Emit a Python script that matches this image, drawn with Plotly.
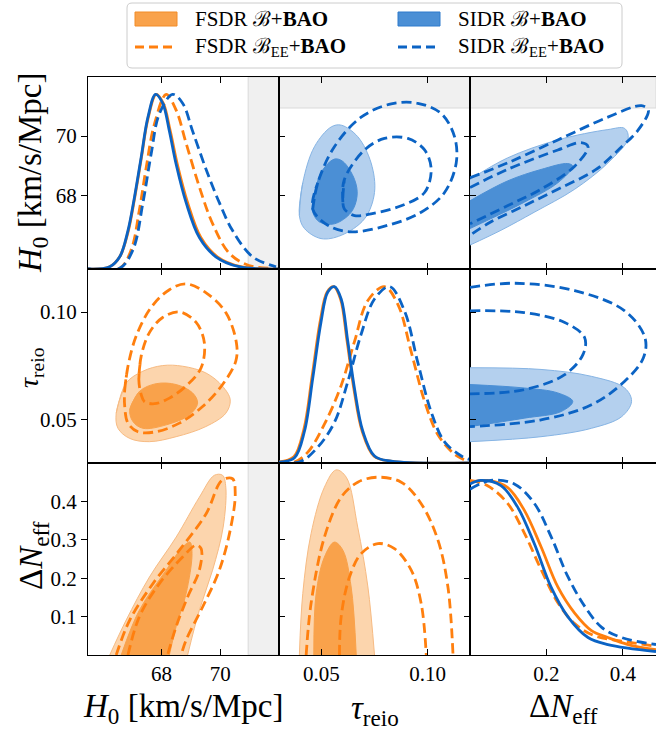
import plotly.graph_objects as go

FIG_W, FIG_H = 656, 735

# ---------------- axes ----------------
H0_RANGE = [65.5, 72.0]
TAU_RANGE = [0.03, 0.12]
DN_RANGE = [0.0, 0.487]
PDF_RANGE = [0.0, 1.1]
H0_BAND = [70.95, 72.0]          # shaded H0 region

H0_TICKS = [68, 70]
TAU_TICKS = [0.05, 0.10]
TAU_TICKTEXT = ["0.05", "0.10"]
DN_XTICKS = [0.2, 0.4]
DN_YTICKS = [0.1, 0.2, 0.3, 0.4]

# ---------------- 1D posteriors (normalised to peak = 1) ----------------
H0_FSDR_B = [(65.5, 0.0), (66.24, 0.013), (66.58, 0.07), (66.86, 0.21), (67.08, 0.40),
             (67.31, 0.63), (67.54, 0.86), (67.82, 1.0), (68.06, 0.95), (68.30, 0.79),
             (68.54, 0.60), (68.89, 0.38), (69.34, 0.18), (69.90, 0.07), (70.70, 0.013), (72.0, 0.0)]
H0_SIDR_B = [(65.5, 0.0), (66.24, 0.013), (66.58, 0.07), (66.86, 0.22), (67.08, 0.41),
             (67.31, 0.64), (67.54, 0.87), (67.80, 1.0), (68.04, 0.95), (68.27, 0.79),
             (68.50, 0.60), (68.84, 0.38), (69.29, 0.18), (69.85, 0.07), (70.64, 0.013), (72.0, 0.0)]
H0_FSDR_BEE = [(65.5, 0.0), (66.58, 0.005), (66.97, 0.11), (67.25, 0.34), (67.48, 0.58),
               (67.76, 0.83), (68.16, 1.0), (68.50, 0.91), (68.84, 0.72), (69.29, 0.47),
               (69.74, 0.26), (70.31, 0.09), (70.98, 0.02), (71.9, 0.003)]
H0_SIDR_BEE = [(65.5, 0.0), (66.58, 0.005), (67.03, 0.11), (67.37, 0.38), (67.65, 0.66),
               (67.93, 0.89), (68.38, 1.0), (68.72, 0.95), (69.06, 0.79), (69.52, 0.57),
               (69.97, 0.38), (70.42, 0.22), (71.10, 0.07), (71.9, 0.013)]

TAU_FSDR_B = [(0.030, 0.006), (0.0370, 0.035), (0.0417, 0.19), (0.0456, 0.49), (0.0495, 0.81),
              (0.0527, 0.97), (0.0558, 1.0), (0.0590, 0.93), (0.0621, 0.69), (0.0653, 0.42),
              (0.0692, 0.18), (0.0747, 0.04), (0.0826, 0.01), (0.12, 0.0)]
TAU_SIDR_B = [(0.030, 0.005), (0.0373, 0.03), (0.0420, 0.18), (0.0459, 0.48), (0.0498, 0.80),
              (0.0530, 0.97), (0.0561, 1.0), (0.0593, 0.93), (0.0624, 0.69), (0.0656, 0.42),
              (0.0695, 0.18), (0.0750, 0.04), (0.0829, 0.01), (0.12, 0.0)]
TAU_FSDR_BEE = [(0.030, 0.0), (0.0373, 0.005), (0.0435, 0.06), (0.0514, 0.22), (0.0593, 0.44),
                (0.0656, 0.69), (0.0718, 0.92), (0.0797, 1.0), (0.0860, 0.90), (0.0923, 0.63),
                (0.0986, 0.35), (0.1049, 0.16), (0.1127, 0.05), (0.1190, 0.01)]
TAU_SIDR_BEE = [(0.030, 0.0), (0.0404, 0.01), (0.0483, 0.09), (0.0561, 0.23), (0.0624, 0.46),
                (0.0687, 0.73), (0.0750, 0.93), (0.0821, 1.0), (0.0892, 0.86), (0.0954, 0.57),
                (0.1017, 0.29), (0.1080, 0.12), (0.1159, 0.04), (0.1198, 0.02)]

DN_FSDR_B = [(0.0, 0.99), (0.046, 1.0), (0.098, 0.96), (0.142, 0.83), (0.186, 0.62),
             (0.230, 0.39), (0.274, 0.24), (0.318, 0.14), (0.361, 0.10), (0.414, 0.06), (0.487, 0.03)]
DN_SIDR_B = [(0.0, 0.98), (0.028, 1.0), (0.081, 0.97), (0.124, 0.85), (0.168, 0.64),
             (0.212, 0.39), (0.256, 0.22), (0.309, 0.10), (0.361, 0.06), (0.487, 0.02)]
DN_FSDR_BEE = [(0.0, 1.0), (0.046, 0.97), (0.098, 0.87), (0.142, 0.70), (0.186, 0.49),
               (0.230, 0.30), (0.274, 0.18), (0.326, 0.11), (0.397, 0.08), (0.487, 0.05)]
DN_SIDR_BEE = [(0.0, 0.95), (0.054, 1.0), (0.116, 0.98), (0.168, 0.87), (0.212, 0.68),
               (0.256, 0.45), (0.300, 0.28), (0.344, 0.16), (0.397, 0.10), (0.487, 0.06)]

# ---------------- FSDR 2D contours (68% / 95%) ----------------
# (H0, tau)
FSDR_B_H0_TAU_95 = [(66.46, 0.0531), (66.80, 0.0671), (67.37, 0.0726), (68.04, 0.0752),
                    (68.72, 0.0749), (69.51, 0.0718), (70.08, 0.0656), (70.34, 0.0593),
                    (70.19, 0.0531), (69.51, 0.0469), (68.50, 0.0422), (67.59, 0.0399),
                    (66.92, 0.0414), (66.52, 0.0461)]
FSDR_B_H0_TAU_68 = [(66.92, 0.0547), (67.25, 0.0632), (67.82, 0.0668), (68.50, 0.0664),
                    (69.06, 0.0625), (69.23, 0.0578), (68.95, 0.0523), (68.16, 0.0477),
                    (67.37, 0.0461), (67.03, 0.0492)]
FSDR_BEE_H0_TAU_95 = [(66.75, 0.0640), (66.86, 0.0749), (67.14, 0.0889), (67.65, 0.1022),
                      (68.27, 0.1104), (68.84, 0.1131), (69.52, 0.1089), (70.19, 0.0998),
                      (70.55, 0.0858), (70.53, 0.0773), (70.08, 0.0664), (69.40, 0.0562),
                      (68.61, 0.0485), (67.82, 0.0445), (67.20, 0.0445), (66.86, 0.0485),
                      (66.75, 0.0562)]
FSDR_BEE_H0_TAU_68 = [(67.23, 0.0687), (67.31, 0.0796), (67.59, 0.0905), (68.04, 0.0975),
                      (68.61, 0.1001), (69.18, 0.0952), (69.46, 0.0858), (69.35, 0.0742),
                      (68.89, 0.0664), (68.27, 0.0601), (67.76, 0.0575), (67.42, 0.0585),
                      (67.31, 0.0617)]
# (H0, dNeff)
FSDR_B_H0_DN_95 = [(66.24, 0.0), (66.80, 0.091), (67.59, 0.203), (68.50, 0.307), (69.29, 0.411),
                   (69.80, 0.468), (70.08, 0.468), (70.19, 0.437), (70.10, 0.333), (69.74, 0.221),
                   (69.29, 0.117), (68.89, 0.0)]
FSDR_B_H0_DN_68 = [(66.63, 0.0), (67.25, 0.117), (68.16, 0.221), (68.72, 0.281), (68.97, 0.294),
                   (69.04, 0.264), (68.84, 0.160), (68.50, 0.074), (68.27, 0.0)]
FSDR_BEE_H0_DN_95 = [(66.46, 0.0), (66.92, 0.091), (67.71, 0.186), (68.61, 0.273), (69.52, 0.368),
                     (70.06, 0.455), (70.42, 0.459), (70.51, 0.420), (70.36, 0.333), (69.97, 0.221),
                     (69.40, 0.125), (68.84, 0.039), (68.67, 0.0)]
FSDR_BEE_H0_DN_68 = [(66.86, 0.0), (67.25, 0.100), (67.93, 0.186), (68.72, 0.255), (69.18, 0.286),
                     (69.35, 0.277), (69.29, 0.221), (68.89, 0.151), (68.50, 0.074), (68.21, 0.0)]
# (tau, dNeff)
FSDR_B_TAU_DN_95 = [(0.0396, 0.0), (0.0412, 0.160), (0.0451, 0.316), (0.0514, 0.437), (0.0569, 0.482),
                    (0.0617, 0.463), (0.0671, 0.333), (0.0719, 0.177), (0.0750, 0.0)]
FSDR_B_TAU_DN_68 = [(0.0464, 0.0), (0.0475, 0.160), (0.0514, 0.255), (0.0561, 0.294), (0.0601, 0.273),
                    (0.0640, 0.177), (0.0664, 0.0)]
FSDR_BEE_TAU_DN_95 = [(0.0428, 0.0), (0.0451, 0.134), (0.0514, 0.307), (0.0593, 0.411), (0.0671, 0.450),
                      (0.0766, 0.463), (0.0876, 0.450), (0.0970, 0.394), (0.1049, 0.299), (0.1096, 0.177),
                      (0.1120, 0.0)]
FSDR_BEE_TAU_DN_68 = [(0.0585, 0.0), (0.0593, 0.100), (0.0632, 0.203), (0.0687, 0.264), (0.0766, 0.290),
                      (0.0844, 0.277), (0.0923, 0.221), (0.0970, 0.134), (0.0994, 0.0)]

# ---------------- SIDR 2D contours (68% / 95%) ----------------
# (tau, H0)
SIDR_B_TAU_H0_95 = [(0.0396, 67.31), (0.0412, 68.42), (0.0467, 69.64), (0.0546, 70.31), (0.0593, 70.37),
                    (0.0671, 69.98), (0.0734, 69.09), (0.0750, 68.09), (0.0703, 67.20), (0.0593, 66.64),
                    (0.0498, 66.53), (0.0420, 66.87)]
SIDR_B_TAU_H0_68 = [(0.0459, 67.76), (0.0498, 68.76), (0.0561, 69.22), (0.0601, 69.14), (0.0656, 68.53),
                    (0.0668, 67.98), (0.0640, 67.42), (0.0561, 67.03), (0.0491, 67.09), (0.0459, 67.42)]
SIDR_BEE_TAU_H0_95 = [(0.0459, 67.53), (0.0483, 68.42), (0.0561, 69.64), (0.0687, 70.64), (0.0829, 71.09),
                      (0.0954, 71.11), (0.1065, 70.76), (0.1127, 69.98), (0.1135, 69.09), (0.1080, 68.09),
                      (0.0970, 67.42), (0.0813, 66.98), (0.0640, 66.76), (0.0530, 66.98)]
SIDR_BEE_TAU_H0_68 = [(0.0601, 67.76), (0.0608, 68.53), (0.0703, 69.53), (0.0797, 69.92), (0.0907, 69.92),
                      (0.0986, 69.53), (0.1017, 68.87), (0.0986, 68.09), (0.0876, 67.64), (0.0734, 67.37),
                      (0.0656, 67.31), (0.0608, 67.53)]
# (dNeff, H0)
SIDR_B_DN_H0_95 = [(0.0, 68.53), (0.098, 69.26), (0.230, 69.87), (0.361, 70.22), (0.405, 70.26),
                   (0.414, 69.92), (0.361, 69.09), (0.274, 68.20), (0.168, 67.42), (0.081, 66.81), (0.0, 66.31)]
SIDR_B_DN_H0_68 = [(0.0, 67.81), (0.098, 68.48), (0.186, 68.87), (0.256, 69.07), (0.269, 68.98),
                   (0.230, 68.42), (0.142, 67.76), (0.054, 67.20), (0.0, 66.87)]
SIDR_BEE_DN_H0_95 = [(0.0, 68.59), (0.098, 69.09), (0.230, 69.87), (0.361, 70.64), (0.449, 71.03),
                     (0.467, 70.87), (0.440, 70.20), (0.397, 69.64), (0.330, 68.87), (0.230, 68.20),
                     (0.142, 67.64), (0.054, 67.09), (0.0, 66.64)]
SIDR_BEE_DN_H0_68 = [(0.0, 68.26), (0.098, 68.87), (0.230, 69.53), (0.291, 69.78), (0.309, 69.64),
                     (0.274, 68.98), (0.186, 68.20), (0.098, 67.64), (0.0, 67.03)]
# (dNeff, tau)
SIDR_B_DN_TAU_95 = [(0.0, 0.0742), (0.186, 0.0734), (0.318, 0.0702), (0.405, 0.0648), (0.423, 0.0586),
                    (0.397, 0.0515), (0.318, 0.0461), (0.186, 0.0422), (0.0, 0.0399)]
SIDR_B_DN_TAU_68 = [(0.0, 0.0664), (0.142, 0.0648), (0.230, 0.0625), (0.269, 0.0586), (0.239, 0.0539),
                    (0.142, 0.0508), (0.0, 0.0469)]
SIDR_BEE_DN_TAU_95 = [(0.0, 0.1115), (0.118, 0.1134), (0.274, 0.1100), (0.405, 0.1006), (0.458, 0.0882),
                      (0.454, 0.0788), (0.405, 0.0679), (0.318, 0.0570), (0.186, 0.0500), (0.0, 0.0469)]
SIDR_BEE_DN_TAU_68 = [(0.0, 0.1006), (0.142, 0.0998), (0.248, 0.0952), (0.300, 0.0882), (0.296, 0.0804),
                      (0.248, 0.0710), (0.142, 0.0640), (0.0, 0.0621)]

# ---------------- styling ----------------
ORANGE_LINE = "#ff7f0e"
ORANGE_DARK = "#f9a24b"
ORANGE_LIGHT = "#fcd5ad"
ORANGE_EDGE = "#f7bb83"
BLUE_LINE = "#0b63c4"
BLUE_DARK = "#4b8fd5"
BLUE_LIGHT = "#b4d0ee"
BLUE_EDGE = "#86b4e4"
BAND_FILL = "#f0f0f0"
BAND_EDGE = "#dadada"
FONT = "Liberation Serif, Times New Roman, Times, DejaVu Serif, serif"
DASH = "10px,5px"
LW = 2.8

COL_PX = [88, 279, 470, 656]
ROW_PX = [77, 269, 463, 655]


def px_x(p):
    return p / FIG_W


def px_y(p):
    return 1 - p / FIG_H


fig = go.Figure()


def ax_id(r, c):
    return (r - 1) * 3 + c


def suffix(i):
    return "" if i == 1 else str(i)


def line_trace(pts, i, color, dash=None, width=LW, closed=False):
    xs = [p[0] for p in pts]
    ys = [p[1] for p in pts]
    if closed:
        xs += [xs[0], xs[1]]
        ys += [ys[0], ys[1]]
    fig.add_trace(go.Scatter(
        x=xs, y=ys, mode="lines", xaxis="x" + suffix(i), yaxis="y" + suffix(i),
        line=dict(color=color, width=width, dash=dash, shape="spline", smoothing=1.0),
        hoverinfo="skip", showlegend=False))


def fill_trace(pts, i, fillcolor, edge, closed=True):
    xs = [p[0] for p in pts]
    ys = [p[1] for p in pts]
    if closed:
        xs += [xs[0], xs[1]]
        ys += [ys[0], ys[1]]
    fig.add_trace(go.Scatter(
        x=xs, y=ys, mode="lines", fill="toself", fillcolor=fillcolor,
        xaxis="x" + suffix(i), yaxis="y" + suffix(i),
        line=dict(color=edge, width=1, shape="spline", smoothing=1.0),
        hoverinfo="skip", showlegend=False))


# invisible trace that attaches the H0 scale to the H0 marginal panel
fig.add_trace(go.Scatter(x=H0_RANGE, y=H0_RANGE, mode="markers", xaxis="x", yaxis="y10",
                         marker=dict(opacity=0), hoverinfo="skip", showlegend=False))

# 1D panels
for (pts_fb, pts_fe, pts_sb, pts_se, i) in [
        (H0_FSDR_B, H0_FSDR_BEE, H0_SIDR_B, H0_SIDR_BEE, ax_id(1, 1)),
        (TAU_FSDR_B, TAU_FSDR_BEE, TAU_SIDR_B, TAU_SIDR_BEE, ax_id(2, 2)),
        (DN_FSDR_B, DN_FSDR_BEE, DN_SIDR_B, DN_SIDR_BEE, ax_id(3, 3))]:
    line_trace(pts_fb, i, ORANGE_LINE)
    line_trace(pts_fe, i, ORANGE_LINE, dash=DASH)
    line_trace(pts_sb, i, BLUE_LINE)
    line_trace(pts_se, i, BLUE_LINE, dash=DASH)

# Lower triangle: FSDR
fill_trace(FSDR_B_H0_TAU_95, ax_id(2, 1), ORANGE_LIGHT, ORANGE_EDGE)
fill_trace(FSDR_B_H0_TAU_68, ax_id(2, 1), ORANGE_DARK, ORANGE_DARK)
line_trace(FSDR_BEE_H0_TAU_95, ax_id(2, 1), ORANGE_LINE, DASH, closed=True)
line_trace(FSDR_BEE_H0_TAU_68, ax_id(2, 1), ORANGE_LINE, DASH, closed=True)

fill_trace(FSDR_B_H0_DN_95, ax_id(3, 1), ORANGE_LIGHT, ORANGE_EDGE, closed=False)
fill_trace(FSDR_B_H0_DN_68, ax_id(3, 1), ORANGE_DARK, ORANGE_DARK, closed=False)
line_trace(FSDR_BEE_H0_DN_95, ax_id(3, 1), ORANGE_LINE, DASH)
line_trace(FSDR_BEE_H0_DN_68, ax_id(3, 1), ORANGE_LINE, DASH)

fill_trace(FSDR_B_TAU_DN_95, ax_id(3, 2), ORANGE_LIGHT, ORANGE_EDGE, closed=False)
fill_trace(FSDR_B_TAU_DN_68, ax_id(3, 2), ORANGE_DARK, ORANGE_DARK, closed=False)
line_trace(FSDR_BEE_TAU_DN_95, ax_id(3, 2), ORANGE_LINE, DASH)
line_trace(FSDR_BEE_TAU_DN_68, ax_id(3, 2), ORANGE_LINE, DASH)

# Upper triangle: SIDR
fill_trace(SIDR_B_TAU_H0_95, ax_id(1, 2), BLUE_LIGHT, BLUE_EDGE)
fill_trace(SIDR_B_TAU_H0_68, ax_id(1, 2), BLUE_DARK, BLUE_DARK)
line_trace(SIDR_BEE_TAU_H0_95, ax_id(1, 2), BLUE_LINE, DASH, closed=True)
line_trace(SIDR_BEE_TAU_H0_68, ax_id(1, 2), BLUE_LINE, DASH, closed=True)

fill_trace(SIDR_B_DN_H0_95, ax_id(1, 3), BLUE_LIGHT, BLUE_EDGE, closed=False)
fill_trace(SIDR_B_DN_H0_68, ax_id(1, 3), BLUE_DARK, BLUE_DARK, closed=False)
line_trace(SIDR_BEE_DN_H0_95, ax_id(1, 3), BLUE_LINE, DASH)
line_trace(SIDR_BEE_DN_H0_68, ax_id(1, 3), BLUE_LINE, DASH)

fill_trace(SIDR_B_DN_TAU_95, ax_id(2, 3), BLUE_LIGHT, BLUE_EDGE, closed=False)
fill_trace(SIDR_B_DN_TAU_68, ax_id(2, 3), BLUE_DARK, BLUE_DARK, closed=False)
line_trace(SIDR_BEE_DN_TAU_95, ax_id(2, 3), BLUE_LINE, DASH)
line_trace(SIDR_BEE_DN_TAU_68, ax_id(2, 3), BLUE_LINE, DASH)

# ---------------- axes layout ----------------
col_range = {1: H0_RANGE, 2: TAU_RANGE, 3: DN_RANGE}
col_ticks = {1: (H0_TICKS, [str(v) for v in H0_TICKS]),
             2: (TAU_TICKS, TAU_TICKTEXT),
             3: (DN_XTICKS, [f"{v:.1f}" for v in DN_XTICKS])}
row_range = {1: H0_RANGE, 2: TAU_RANGE, 3: [0.0, 0.5]}
row_ticks = {1: (H0_TICKS, [str(v) for v in H0_TICKS]),
             2: (TAU_TICKS, TAU_TICKTEXT),
             3: (DN_YTICKS, [f"{v:.1f}" for v in DN_YTICKS])}

tickfont = dict(family=FONT, size=21, color="black")
layout = {}
for r in range(1, 4):
    for c in range(1, 4):
        i = ax_id(r, c)
        xdom = [px_x(COL_PX[c - 1]), px_x(COL_PX[c])]
        ydom = [px_y(ROW_PX[r]), px_y(ROW_PX[r - 1])]
        tv, tt = col_ticks[c]
        layout["xaxis" + suffix(i)] = dict(
            domain=xdom, range=col_range[c], anchor="y" + suffix(i),
            tickvals=tv, ticktext=tt, showticklabels=(r == 3),
            ticks="inside", ticklen=6, tickwidth=1, tickcolor="black",
            mirror="ticks", showline=True, linecolor="black", linewidth=1.3,
            showgrid=False, zeroline=False, tickfont=tickfont)
        if r == c:
            layout["yaxis" + suffix(i)] = dict(
                domain=ydom, range=PDF_RANGE, anchor="x" + suffix(i),
                showticklabels=False, ticks="", showline=True,
                mirror=(c != 3), linecolor="black", linewidth=1.3,
                showgrid=False, zeroline=False)
        else:
            tvy, tty = row_ticks[r]
            layout["yaxis" + suffix(i)] = dict(
                domain=ydom, range=row_range[r], anchor="x" + suffix(i),
                tickvals=tvy, ticktext=tty, showticklabels=(c == 1),
                ticks="outside" if c == 1 else "inside", ticklen=6, tickwidth=1,
                tickcolor="black",
                mirror=True if c == 1 else (False if c == 3 else "ticks"),
                showline=True, linecolor="black", linewidth=1.3,
                showgrid=False, zeroline=False, tickfont=tickfont)

# H0 scale shown beside the H0 marginal
layout["yaxis10"] = dict(
    overlaying="y", anchor="x", side="left", range=H0_RANGE,
    tickvals=H0_TICKS, ticktext=[str(v) for v in H0_TICKS],
    ticks="outside", ticklen=6, tickwidth=1, tickcolor="black",
    showline=False, showgrid=False, zeroline=False, tickfont=tickfont)

# ---------------- shaded H0 band ----------------
shapes = []
for r in (1, 2, 3):
    i = ax_id(r, 1)
    shapes.append(dict(type="rect", layer="below", xref="x" + suffix(i),
                       yref="y" + suffix(i) + " domain", x0=H0_BAND[0], x1=H0_BAND[1],
                       y0=0, y1=1, fillcolor=BAND_FILL, line=dict(color=BAND_EDGE, width=1)))
for c in (2, 3):
    i = ax_id(1, c)
    shapes.append(dict(type="rect", layer="below", xref="x" + suffix(i) + " domain",
                       yref="y" + suffix(i), x0=0, x1=1, y0=H0_BAND[0], y1=H0_BAND[1],
                       fillcolor=BAND_FILL, line=dict(color=BAND_EDGE, width=1)))

# ---------------- legend box ----------------
lx0, ly0, lx1, ly1, rad = 127, 3, 622, 68, 5
path = (f"M {px_x(lx0 + rad)},{px_y(ly0)} L {px_x(lx1 - rad)},{px_y(ly0)} "
        f"Q {px_x(lx1)},{px_y(ly0)} {px_x(lx1)},{px_y(ly0 + rad)} "
        f"L {px_x(lx1)},{px_y(ly1 - rad)} Q {px_x(lx1)},{px_y(ly1)} {px_x(lx1 - rad)},{px_y(ly1)} "
        f"L {px_x(lx0 + rad)},{px_y(ly1)} Q {px_x(lx0)},{px_y(ly1)} {px_x(lx0)},{px_y(ly1 - rad)} "
        f"L {px_x(lx0)},{px_y(ly0 + rad)} Q {px_x(lx0)},{px_y(ly0)} {px_x(lx0 + rad)},{px_y(ly0)} Z")
shapes.append(dict(type="path", xref="paper", yref="paper", path=path,
                   fillcolor="white", line=dict(color="#cccccc", width=1)))

legend_items = [
    (135, 19, "fill", ORANGE_DARK, "#f28c28", "FSDR ℬ+<b>BAO</b>"),
    (135, 47, "dash", ORANGE_LINE, None, "FSDR ℬ<sub>EE</sub>+<b>BAO</b>"),
    (398, 19, "fill", BLUE_DARK, "#2f7bcc", "SIDR ℬ+<b>BAO</b>"),
    (398, 47, "dash", BLUE_LINE, None, "SIDR ℬ<sub>EE</sub>+<b>BAO</b>"),
]
annotations = []
for (sx, sy, kind, col, edge, label) in legend_items:
    if kind == "fill":
        shapes.append(dict(type="rect", xref="paper", yref="paper",
                           x0=px_x(sx), x1=px_x(sx + 42), y0=px_y(sy + 7), y1=px_y(sy - 7),
                           fillcolor=col, line=dict(color=edge, width=1)))
    else:
        shapes.append(dict(type="line", xref="paper", yref="paper",
                           x0=px_x(sx), x1=px_x(sx + 42), y0=px_y(sy), y1=px_y(sy),
                           line=dict(color=col, width=LW, dash="9px,5px")))
    annotations.append(dict(x=px_x(sx + 58), y=px_y(sy), xref="paper", yref="paper",
                            text=label, showarrow=False, xanchor="left", yanchor="middle",
                            font=dict(family=FONT, size=21, color="black")))

# ---------------- axis titles ----------------
H0_LABEL = "<i>H</i><sub>0</sub> [km/s/Mpc]"
TAU_LABEL = "<i>τ</i><sub>reio</sub>"
DN_LABEL = "Δ<i>N</i><sub>eff</sub>"
title_font = dict(family=FONT, size=33, color="black")
annotations += [
    dict(x=px_x(33), y=px_y(173), text=H0_LABEL, textangle=-90, font=title_font),
    dict(x=px_x(30), y=px_y(368), text=TAU_LABEL, textangle=-90,
         font=dict(family=FONT, size=28, color="black")),
    dict(x=px_x(33), y=px_y(556), text=DN_LABEL, textangle=-90, font=title_font),
    dict(x=px_x(183), y=px_y(708), text=H0_LABEL, font=title_font),
    dict(x=px_x(375), y=px_y(710), text=TAU_LABEL, font=title_font),
    dict(x=px_x(563), y=px_y(708), text=DN_LABEL, font=title_font),
]
for a in annotations[-6:]:
    a.update(xref="paper", yref="paper", showarrow=False, xanchor="center", yanchor="middle")

fig.update_layout(
    width=FIG_W, height=FIG_H, margin=dict(l=0, r=0, t=0, b=0),
    paper_bgcolor="white", plot_bgcolor="white",
    font=dict(family=FONT, color="black"),
    shapes=shapes, annotations=annotations, showlegend=False, **layout)

fig.write_html("out.html")
